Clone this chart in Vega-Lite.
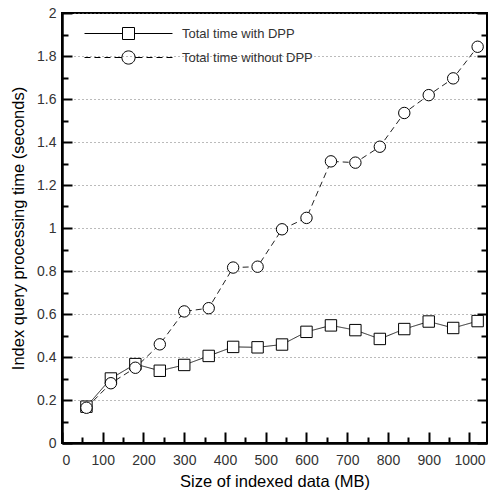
{
  "$schema": "https://vega.github.io/schema/vega-lite/v6.json",
  "width": 425,
  "height": 430,
  "autosize": {"type": "none"},
  "padding": {"left": 62, "top": 13, "right": 1, "bottom": 51},
  "config": {
    "view": {"stroke": "black", "strokeWidth": 2},
    "font": "Liberation Sans",
    "axis": {"labelFont": "Liberation Sans", "titleFont": "Liberation Sans", "labelFontSize": 14, "labelColor": "#333", "titleFontSize": 16.5, "titleFontWeight": "normal", "titleColor": "#000", "domainColor": "black", "domainWidth": 2}
  },
  "data": {
    "values": [
      {"size": 60, "time": 0.169, "series": "Total time with DPP"},
      {"size": 120, "time": 0.300, "series": "Total time with DPP"},
      {"size": 180, "time": 0.367, "series": "Total time with DPP"},
      {"size": 240, "time": 0.336, "series": "Total time with DPP"},
      {"size": 300, "time": 0.363, "series": "Total time with DPP"},
      {"size": 360, "time": 0.405, "series": "Total time with DPP"},
      {"size": 420, "time": 0.447, "series": "Total time with DPP"},
      {"size": 480, "time": 0.445, "series": "Total time with DPP"},
      {"size": 540, "time": 0.458, "series": "Total time with DPP"},
      {"size": 600, "time": 0.517, "series": "Total time with DPP"},
      {"size": 660, "time": 0.547, "series": "Total time with DPP"},
      {"size": 720, "time": 0.525, "series": "Total time with DPP"},
      {"size": 780, "time": 0.484, "series": "Total time with DPP"},
      {"size": 840, "time": 0.530, "series": "Total time with DPP"},
      {"size": 900, "time": 0.565, "series": "Total time with DPP"},
      {"size": 960, "time": 0.535, "series": "Total time with DPP"},
      {"size": 1020, "time": 0.567, "series": "Total time with DPP"},
      {"size": 60, "time": 0.164, "series": "Total time without DPP"},
      {"size": 120, "time": 0.278, "series": "Total time without DPP"},
      {"size": 180, "time": 0.350, "series": "Total time without DPP"},
      {"size": 240, "time": 0.459, "series": "Total time without DPP"},
      {"size": 300, "time": 0.612, "series": "Total time without DPP"},
      {"size": 360, "time": 0.627, "series": "Total time without DPP"},
      {"size": 420, "time": 0.816, "series": "Total time without DPP"},
      {"size": 480, "time": 0.820, "series": "Total time without DPP"},
      {"size": 540, "time": 0.994, "series": "Total time without DPP"},
      {"size": 600, "time": 1.047, "series": "Total time without DPP"},
      {"size": 660, "time": 1.310, "series": "Total time without DPP"},
      {"size": 720, "time": 1.304, "series": "Total time without DPP"},
      {"size": 780, "time": 1.378, "series": "Total time without DPP"},
      {"size": 840, "time": 1.535, "series": "Total time without DPP"},
      {"size": 900, "time": 1.618, "series": "Total time without DPP"},
      {"size": 960, "time": 1.696, "series": "Total time without DPP"},
      {"size": 1020, "time": 1.843, "series": "Total time without DPP"}
    ]
  },
  "layer": [
    {
      "mark": {"type": "line", "strokeWidth": 1, "color": "#222"},
      "encoding": {
        "x": {
          "field": "size", "type": "quantitative",
          "scale": {"domain": [0, 1043], "nice": false, "zero": true},
          "axis": {
            "orient": "bottom",
            "values": [0, 100, 200, 300, 400, 500, 600, 700, 800, 900, 1000],
            "format": "d",
            "tickSize": -11,
            "tickColor": "black",
            "tickWidth": 2,
            "labelPadding": 21,
            "grid": false,
            "title": "Size of indexed data (MB)",
            "titlePadding": 6
          }
        },
        "y": {
          "field": "time", "type": "quantitative",
          "scale": {"domain": [0, 2], "nice": false},
          "axis": {
            "orient": "left",
            "values": [0, 0.2, 0.4, 0.6, 0.8, 1, 1.2, 1.4, 1.6, 1.8, 2],
            "format": "~g",
            "tickSize": -10,
            "tickColor": "black",
            "tickWidth": 2,
            "labelPadding": 16,
            "grid": true,
            "gridDash": [1, 3],
            "gridColor": "#777",
            "gridWidth": 1,
            "title": "Index query processing time (seconds)",
            "titlePadding": 10
          }
        },
        "strokeDash": {
          "field": "series", "type": "nominal",
          "scale": {"domain": ["Total time with DPP", "Total time without DPP"], "range": [[1, 0], [6, 4]]},
          "legend": null
        }
      }
    },
    {
      "mark": {"type": "point", "filled": true, "fill": "white", "stroke": "black", "strokeWidth": 1, "size": 130, "opacity": 1},
      "encoding": {
        "x": {
          "field": "size", "type": "quantitative",
          "axis": {"orient": "bottom", "values": [50, 150, 250, 350, 450, 550, 650, 750, 850, 950], "labels": false, "tickSize": -6, "tickColor": "black", "tickWidth": 2, "grid": false, "title": null}
        },
        "y": {
          "field": "time", "type": "quantitative",
          "axis": {"orient": "left", "values": [0.1, 0.3, 0.5, 0.7, 0.9, 1.1, 1.3, 1.5, 1.7, 1.9], "labels": false, "tickSize": -6, "tickColor": "black", "tickWidth": 2, "grid": false, "title": null}
        },
        "shape": {
          "field": "series", "type": "nominal",
          "scale": {"domain": ["Total time with DPP", "Total time without DPP"], "range": ["square", "circle"]},
          "legend": null
        }
      }
    },
    {
      "transform": [{"filter": "datum.size < 0"}],
      "mark": {"type": "point", "filled": false, "stroke": "black", "strokeWidth": 1, "opacity": 1, "size": 144},
      "encoding": {
        "x": {"field": "size", "type": "quantitative", "axis": null},
        "y": {
          "field": "time", "type": "quantitative",
          "axis": {"orient": "right", "values": [0, 0.2, 0.4, 0.6, 0.8, 1, 1.2, 1.4, 1.6, 1.8, 2], "labels": false, "tickSize": -10, "tickColor": "black", "tickWidth": 2, "grid": false, "title": null}
        },
        "shape": {
          "field": "series", "type": "nominal",
          "scale": {
            "domain": ["Total time with DPP", "Total time without DPP"],
            "range": [
              "M-7.33,0L-1,0M1,0L7.33,0M-1,-1L1,-1L1,1L-1,1Z",
              "M-7.33,0L-6.33,0M-5.67,0L-4.67,0M-4,0L-3,0M-2.33,0L-1.1,0M1.1,0L2.33,0M3,0L4,0M4.67,0L5.67,0M6.33,0L7.33,0M1.1,0A1.1,1.1,0,1,1,-1.1,0A1.1,1.1,0,1,1,1.1,0Z"
            ]
          },
          "legend": {
            "title": null,
            "orient": "none",
            "legendX": 60,
            "legendY": 14,
            "padding": 0,
            "symbolSize": 144,
            "symbolStrokeColor": "black",
            "symbolFillColor": "white",
            "symbolStrokeWidth": 1,
            "symbolOpacity": 1,
            "labelOffset": 47,
            "labelFontSize": 13,
            "labelFont": "Liberation Sans",
            "labelColor": "#333",
            "rowPadding": 6,
            "labelLimit": 300
          }
        }
      }
    },
    {
      "transform": [{"filter": "datum.size < 0"}],
      "mark": {"type": "point", "size": 10},
      "encoding": {
        "x": {"field": "size", "type": "quantitative", "axis": null},
        "y": {
          "field": "time", "type": "quantitative",
          "axis": {"orient": "right", "values": [0.1, 0.3, 0.5, 0.7, 0.9, 1.1, 1.3, 1.5, 1.7, 1.9], "labels": false, "tickSize": -6, "tickColor": "black", "tickWidth": 2, "grid": false, "title": null}
        }
      }
    }
  ],
  "resolve": {"scale": {"shape": "independent"}, "axis": {"x": "independent", "y": "independent"}}
}
